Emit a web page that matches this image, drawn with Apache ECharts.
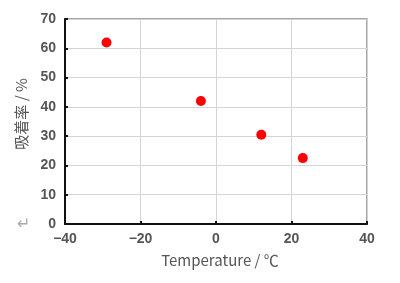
<!DOCTYPE html>
<html><head><meta charset="utf-8">
<script src="https://cdn.jsdelivr.net/npm/echarts@6/dist/echarts.min.js"></script>
<style>html,body{margin:0;padding:0;background:#fff}#c{width:400px;height:283px}</style>
</head><body><div id="c"></div>
<script>
const temperature = [-29, -4, 12, 23];
const adsorption = [62, 42, 30.5, 22.5];
const xTitle = 'Temperature / ℃';
const yTitle = '吸着率 / %';

const chart = echarts.init(document.getElementById('c'), null, {renderer: 'canvas'});
const lblStyle = {color: '#555', fontSize: 14, fontFamily: 'Liberation Sans, Arial, sans-serif', fontWeight: 'bold'};
chart.setOption({
  animation: false,
  grid: {left: 65, right: 33, top: 19, bottom: 59, show: true, borderColor: '#888', borderWidth: 1.5},
  xAxis: {
    type: 'value', min: -40, max: 40, interval: 20,
    axisLine: {show: true, onZero: false, lineStyle: {color: '#111', width: 2}},
    axisTick: {show: true, inside: true, length: 3, lineStyle: {color: '#111', width: 2}},
    splitLine: {show: true, lineStyle: {color: '#d4d4d4', width: 1}},
    axisLabel: Object.assign({margin: 8, formatter: v => v < 0 ? '\u2212' + Math.abs(v) : String(v)}, lblStyle),
    name: xTitle, nameLocation: 'middle', nameGap: 29,
    nameTextStyle: {color: '#555', fontSize: 15, fontFamily: 'Noto Sans CJK JP, sans-serif', padding: [0, 0, 0, 8]}
  },
  yAxis: {
    type: 'value', min: 0, max: 70, interval: 10,
    axisLine: {show: true, onZero: false, lineStyle: {color: '#111', width: 2}},
    axisTick: {show: true, inside: true, length: 3, lineStyle: {color: '#111', width: 2}},
    splitLine: {show: true, lineStyle: {color: '#d4d4d4', width: 1}},
    axisLabel: Object.assign({margin: 9}, lblStyle)
  },
  graphic: [
    {type: 'text', x: 21, y: 114, rotation: Math.PI / 2,
     style: {text: yTitle, fill: '#555', fontSize: 15, fontFamily: 'Noto Sans CJK JP, sans-serif', align: 'center', verticalAlign: 'middle'}},
    {type: 'text', left: 17, top: 217, style: {text: '↵', fill: '#aaa', fontSize: 16, fontFamily: 'DejaVu Sans'}}
  ],
  series: [{
    type: 'scatter', symbol: 'circle', symbolSize: 10,
    itemStyle: {color: '#ff0000', opacity: 1},
    data: temperature.map((t, i) => [t, adsorption[i]])
  }]
});
</script></body></html>
